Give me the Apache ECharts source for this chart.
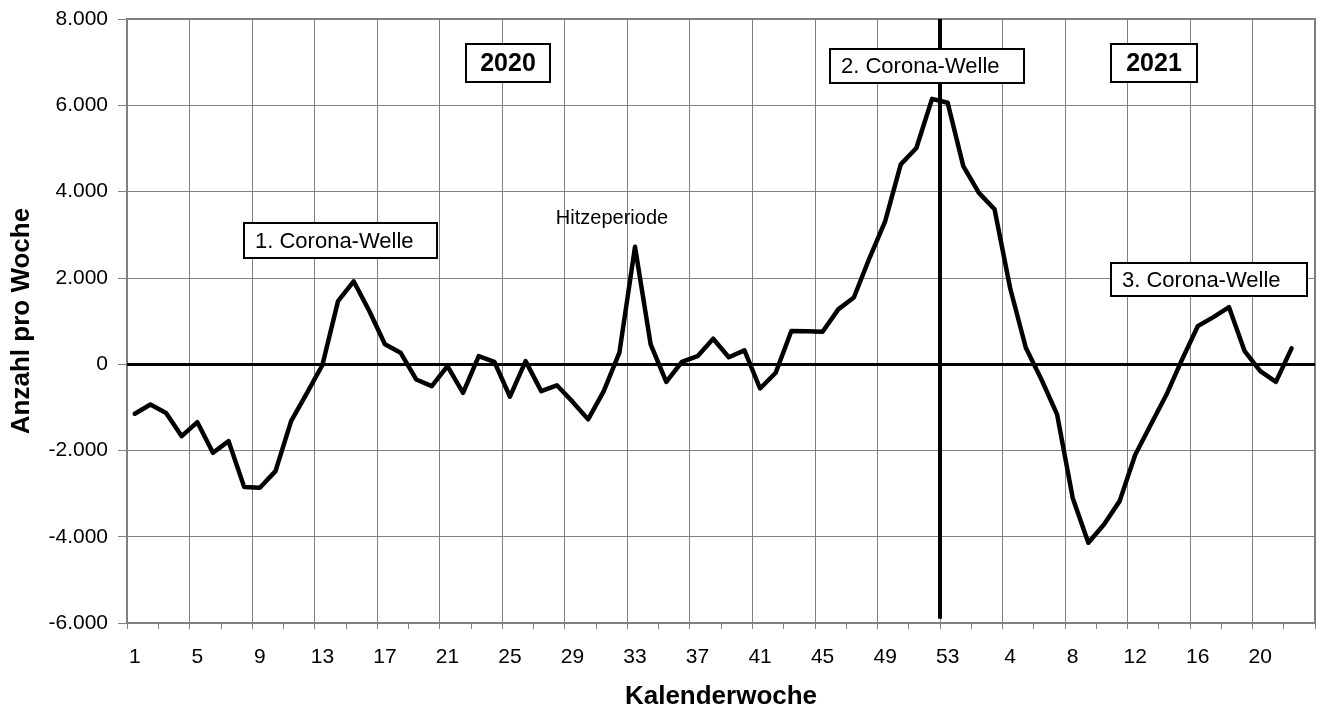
<!DOCTYPE html>
<html>
<head>
<meta charset="utf-8">
<script src="https://cdn.jsdelivr.net/npm/echarts@6/dist/echarts.min.js"></script>
<style>
  html, body { margin: 0; padding: 0; background: #fff; }
  #chart { width: 1317px; height: 707px; }
</style>
</head>
<body>
<div id="chart"></div>
<script>
// Week labels (ISO calendar weeks): 2020 has 53 weeks, axis continues into 2021
const weeks2020 = [1,2,3,4,5,6,7,8,9,10,11,12,13,14,15,16,17,18,19,20,21,22,23,24,25,26,27,28,29,30,
  31,32,33,34,35,36,37,38,39,40,41,42,43,44,45,46,47,48,49,50,51,52,53];
const weeks2021 = [1,2,3,4,5,6,7,8,9,10,11,12,13,14,15,16,17,18,19,20,21,22,23];

// Excess deaths per week (Anzahl pro Woche)
const values2020 = [-1150,-935,-1130,-1670,-1345,-2055,-1785,-2850,-2865,-2480,
  -1320,-680,-20,1460,1920,1230,460,265,-355,-510,
  -45,-665,185,55,-755,70,-625,-490,-870,-1280,
  -625,265,2720,460,-410,55,185,590,160,320,
  -565,-200,770,760,750,1270,1545,2460,3310,4630,
  5010,6150,6060];
const values2021 = [4590,3970,3590,1760,380,-355,-1165,-3100,-4140,-3715,
  -3175,-2100,-1400,-705,110,880,1090,1320,300,-160,-410,365];

const yTicks = { min: -6000, max: 8000, interval: 2000 };

const categories = weeks2020.map(w => '2020-' + w).concat(weeks2021.map(w => '2021-' + w));
const seriesValues = values2020.concat(values2021);
const yearBoundary = weeks2020.indexOf(53); // gridline marking the year change

function deNumber(v) {
  const s = String(Math.abs(v)).replace(/\B(?=(\d{3})+(?!\d))/g, '.');
  return (v < 0 ? '-' : '') + s;
}

const FONT = '"Liberation Sans", Arial, Helvetica, sans-serif';
const GRID_COLOR = '#808080';

const chart = echarts.init(document.getElementById('chart'), null, { renderer: 'canvas' });

function box(x, y, w, h, text, bold, textX) {
  return {
    type: 'group',
    z: 100,
    children: [
      { type: 'rect', shape: { x: x, y: y, width: w, height: h },
        style: { fill: '#fff', stroke: '#000', lineWidth: 2 }, z: 100 },
      { type: 'text', z: 101,
        style: { x: textX !== undefined ? textX : x + w / 2, y: y + h / 2 + 1, text: text,
          font: (bold ? 'bold 25px ' : '22px ') + FONT, fill: '#000',
          textAlign: textX !== undefined ? 'left' : 'center', textVerticalAlign: 'middle',
          align: textX !== undefined ? 'left' : 'center', verticalAlign: 'middle' } }
    ]
  };
}

const option = {
  backgroundColor: '#fff',
  animation: false,
  grid: {
    left: 127, right: 2, top: 19, bottom: 84,
    containLabel: false,
    outerBoundsMode: 'none',
    show: true, borderColor: GRID_COLOR, borderWidth: 2, backgroundColor: '#fff'
  },
  xAxis: [
    {
      type: 'category',
      data: categories,
      boundaryGap: true,
      name: 'Kalenderwoche',
      nameLocation: 'middle',
      nameGap: 61,
      nameTextStyle: { fontFamily: FONT, fontWeight: 'bold', fontSize: 26, color: '#000' },
      axisLine: { show: true, onZero: false, lineStyle: { color: GRID_COLOR, width: 2 } },
      axisTick: { show: true, interval: 1, length: 6, lineStyle: { color: GRID_COLOR, width: 1 } },
      axisLabel: {
        interval: 3, margin: 24, fontFamily: FONT, fontSize: 21, color: '#000',
        formatter: v => v.split('-')[1]
      },
      splitLine: { show: true, interval: 3, lineStyle: { color: GRID_COLOR, width: 1 } }
    },
    {
      type: 'value', min: 0, max: categories.length, show: false,
      splitLine: { show: false }
    }
  ],
  yAxis: {
    type: 'value',
    min: yTicks.min, max: yTicks.max, interval: yTicks.interval,
    name: 'Anzahl pro Woche',
    nameLocation: 'middle',
    nameGap: 92,
    nameTextStyle: { fontFamily: FONT, fontWeight: 'bold', fontSize: 26, color: '#000' },
    axisLine: { show: true, lineStyle: { color: GRID_COLOR, width: 2 } },
    axisTick: { show: true, length: 9, lineStyle: { color: GRID_COLOR, width: 1 } },
    axisLabel: { margin: 19, fontFamily: FONT, fontSize: 21, color: '#000', formatter: deNumber },
    splitLine: { show: true, lineStyle: { color: GRID_COLOR, width: 1 } }
  },
  series: [
    {
      type: 'line',
      xAxisIndex: 1,
      data: [[yearBoundary, 0]],
      symbol: 'none',
      lineStyle: { width: 0 },
      silent: true,
      z: 2,
      markLine: {
        silent: true,
        symbol: 'none',
        label: { show: false },
        lineStyle: { color: '#000', type: 'solid' },
        data: [
          [
            { coord: [yearBoundary, yTicks.max], lineStyle: { width: 4, color: '#000', type: 'solid' } },
            { coord: [yearBoundary, yTicks.min + 100] }
          ],
          { yAxis: 0, lineStyle: { width: 3, color: '#000', type: 'solid' } }
        ]
      }
    },
    {
      type: 'line',
      xAxisIndex: 0,
      data: seriesValues,
      symbol: 'none',
      smooth: false,
      lineStyle: { color: '#000', width: 4.5, join: 'round', cap: 'round' },
      z: 5
    }
  ],
  graphic: [
    box(466, 44, 84, 38, '2020', true),
    box(1111, 44, 86, 38, '2021', true),
    box(830, 49, 194, 34, '2. Corona-Welle', false, 841),
    box(244, 223, 193, 35, '1. Corona-Welle', false, 255),
    box(1111, 263, 196, 33, '3. Corona-Welle', false, 1122),
    {
      type: 'text', z: 100,
      style: { x: 612, y: 218, text: 'Hitzeperiode', font: '20px ' + FONT, fill: '#000',
        textAlign: 'center', textVerticalAlign: 'middle', align: 'center', verticalAlign: 'middle' }
    }
  ]
};

chart.setOption(option);
</script>
</body>
</html>
